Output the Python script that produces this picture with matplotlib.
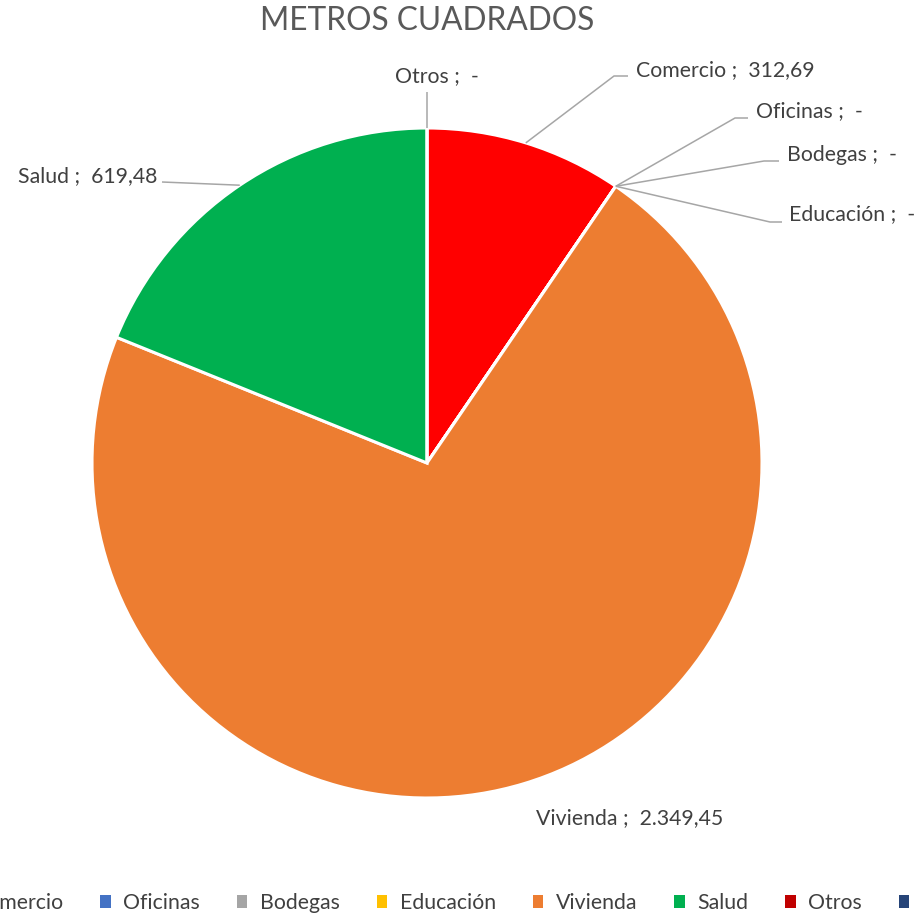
import numpy as np
import matplotlib
matplotlib.use("Agg")
import matplotlib.pyplot as plt
from matplotlib.patches import Patch

categories = ["Comercio", "Oficinas", "Bodegas", "Educación", "Vivienda", "Salud", "Otros"]
values = [312.69, 0.0, 0.0, 0.0, 2349.45, 619.48, 0.0]
colors = ["#FF0000", "#4472C4", "#A5A5A5", "#FFC000", "#ED7D31", "#00B050", "#C00000"]
extra_legend_label = "Total"
extra_legend_color = "#264478"
title = "METROS CUADRADOS"

W, H = 920, 916
CX, CY, R = 427, 463, 335  # pie centre / radius in pixels

plt.rcParams['font.family'] = ['Lato', 'DejaVu Sans']

fig = plt.figure(figsize=(W / 100, H / 100), dpi=100)
ax = fig.add_axes([0, 0, 1, 1])
ax.axis('off')


def px(x, y):
    return ((x - CX) / R, (CY - y) / R)


wedges, _ = ax.pie(values, colors=colors, startangle=90, counterclock=False,
                   radius=1.0, center=(0, 0),
                   wedgeprops=dict(edgecolor='white', linewidth=2.2))
ax.set_xlim((0 - CX) / R, (W - CX) / R)
ax.set_ylim((CY - H) / R, (CY - 0) / R)
ax.set_aspect('equal')


def fmt(v):
    if v == 0:
        return "-"
    s = f"{v:,.2f}"
    return s.replace(",", "X").replace(".", ",").replace("X", ".")


def anchor(w):
    a = np.deg2rad((w.theta1 + w.theta2) / 2)
    return (np.cos(a), np.sin(a))


FS = 15.3
txt_kw = dict(fontsize=FS, color="#404040", va='center')
line_kw = dict(color="#A6A6A6", lw=1.1, solid_capstyle='butt')

# label placement (pixels): (text x, text y, ha, leader points)
place = {
    "Comercio": (636, 70, 'left', [(614, 76), (628, 76)]),
    "Oficinas": (756, 111, 'left', [(735, 118), (748, 118)]),
    "Bodegas": (787, 155, 'left', [(764, 161), (779, 161)]),
    "Educación": (789, 214, 'left', [(770, 222), (782, 222)]),
    "Otros": (437, 76, 'center', [(427, 92)]),
    "Salud": (157, 176, 'right', [(162, 182)]),
    "Vivienda": (630, 818, 'center', None),
}

for w, cat, v in zip(wedges, categories, values):
    tx, ty, ha, pts = place[cat]
    ax.text(*px(tx, ty), f"{cat} ;  {fmt(v)}", ha=ha, **txt_kw)
    if pts:
        a = anchor(w)
        xs = [a[0]] + [px(*p)[0] for p in pts]
        ys = [a[1]] + [px(*p)[1] for p in pts]
        ax.plot(xs, ys, **line_kw)

ax.text(*px(427, 21), title, ha='center', va='center', fontsize=22.8,
        color="#595959")

handles = [Patch(facecolor=c, edgecolor='none') for c in colors] + \
          [Patch(facecolor=extra_legend_color, edgecolor='none')]
labels = categories + [extra_legend_label]
fig.legend(handles, labels, loc='center', bbox_to_anchor=(0.5, 1 - 903 / H),
           ncol=8, frameon=False, fontsize=FS, handlelength=0.5,
           handleheight=0.5, handletextpad=0.6, columnspacing=1.72,
           labelcolor="#404040")

fig.savefig("out.png", dpi=100)
